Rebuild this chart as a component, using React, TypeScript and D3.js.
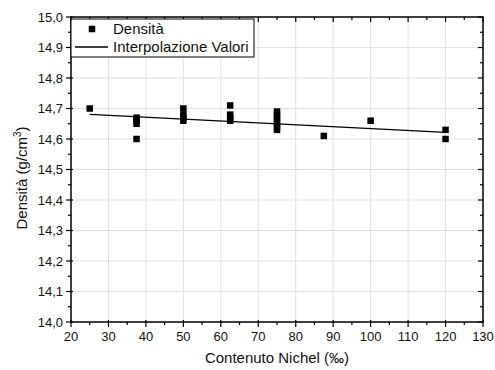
import React from "react";
import * as d3 from "d3";

const xValues = [25, 37.5, 37.5, 37.5, 37.5, 50, 50, 50, 50, 62.5, 62.5, 62.5, 62.5, 75, 75, 75, 75, 75, 75, 75, 87.5, 100, 120, 120];
const yValues = [14.70, 14.60, 14.65, 14.66, 14.67, 14.66, 14.67, 14.68, 14.70, 14.66, 14.67, 14.68, 14.71, 14.63, 14.64, 14.65, 14.66, 14.67, 14.68, 14.69, 14.61, 14.66, 14.60, 14.63];
const fitX = [25, 120];
const fitY = [14.681, 14.622];
const xTicks = [20, 30, 40, 50, 60, 70, 80, 90, 100, 110, 120, 130];
const yTicks = [14.0, 14.1, 14.2, 14.3, 14.4, 14.5, 14.6, 14.7, 14.8, 14.9, 15.0];
const legendLabels = ["Densità", "Interpolazione Valori"];

const W = 495, H = 370;
const L = 71, R = 483, T = 17, B = 322;
const font = "'Liberation Sans', Arial, sans-serif";

export default function App() {
  const x = d3.scaleLinear().domain([20, 130]).range([L, R]);
  const y = d3.scaleLinear().domain([14.0, 15.0]).range([B, T]);
  const xMinor = d3.range(25, 130, 10);
  const yMinor = d3.range(14.05, 15.0, 0.1);
  const line = d3.line<number>().x((d, i) => x(fitX[i])).y((d) => y(d));
  const fmt = (v: number) => v.toFixed(1).replace(".", ",");
  const ms = 6.5;
  return (
    <svg width={W} height={H} style={{ position: "absolute", left: 0, top: 0, background: "#fff" }} fontFamily={font}>
      {/* grid */}
      {xTicks.slice(1, -1).map((t) => (
        <line key={"gx" + t} x1={x(t)} x2={x(t)} y1={T} y2={B} stroke="#e0e0e0" strokeWidth={1} />
      ))}
      {yTicks.slice(1, -1).map((t) => (
        <line key={"gy" + t} x1={L} x2={R} y1={y(t)} y2={y(t)} stroke="#e0e0e0" strokeWidth={1} />
      ))}
      {/* fit line */}
      <path d={line(fitY) || ""} fill="none" stroke="#000" strokeWidth={1.3} />
      {/* points */}
      {xValues.map((xv, i) => (
        <rect key={"p" + i} x={x(xv) - ms / 2} y={y(yValues[i]) - ms / 2} width={ms} height={ms} fill="#000" />
      ))}
      {/* frame */}
      <rect x={L} y={T} width={R - L} height={B - T} fill="none" stroke="#000" strokeWidth={1.5} />
      {/* bottom ticks */}
      {xTicks.map((t) => (
        <g key={"xt" + t}>
          <line x1={x(t)} x2={x(t)} y1={B - 2} y2={B + 5} stroke="#000" strokeWidth={1.2} />
          <line x1={x(t)} x2={x(t)} y1={T} y2={T + 5} stroke="#000" strokeWidth={1.2} />
          <text x={x(t)} y={B + 19} fontSize={13} textAnchor="middle" fill="#111">{t}</text>
        </g>
      ))}
      {xMinor.map((t) => (
        <g key={"xm" + t}>
          <line x1={x(t)} x2={x(t)} y1={B} y2={B + 3} stroke="#000" strokeWidth={1.2} />
          <line x1={x(t)} x2={x(t)} y1={T} y2={T + 3} stroke="#000" strokeWidth={1.2} />
        </g>
      ))}
      {/* left ticks */}
      {yTicks.map((t) => (
        <g key={"yt" + t}>
          <line x1={L - 5} x2={L + 2} y1={y(t)} y2={y(t)} stroke="#000" strokeWidth={1.2} />
          <line x1={R - 5} x2={R} y1={y(t)} y2={y(t)} stroke="#000" strokeWidth={1.2} />
          <text x={L - 8} y={y(t) + 4.5} fontSize={13} textAnchor="end" fill="#111">{fmt(t)}</text>
        </g>
      ))}
      {yMinor.map((t) => (
        <g key={"ym" + t}>
          <line x1={L - 3} x2={L} y1={y(t)} y2={y(t)} stroke="#000" strokeWidth={1.2} />
          <line x1={R - 3} x2={R} y1={y(t)} y2={y(t)} stroke="#000" strokeWidth={1.2} />
        </g>
      ))}
      {/* axis titles */}
      <text x={(L + R) / 2} y={363} fontSize={15} textAnchor="middle" fill="#111">Contenuto Nichel (‰)</text>
      <text transform={`translate(27,178) rotate(-90)`} fontSize={15} textAnchor="middle" fill="#111">
        Densità (g/cm<tspan dy={-6} fontSize={10}>3</tspan><tspan dy={6}>)</tspan>
      </text>
      {/* legend */}
      <rect x={L} y={T + 2} width={183} height={38} fill="#fff" stroke="#000" strokeWidth={1} />
      <rect x={92 - ms / 2} y={29 - ms / 2} width={ms} height={ms} fill="#000" />
      <text x={113} y={34} fontSize={15} fill="#111">{legendLabels[0]}</text>
      <line x1={75} x2={108} y1={47} y2={47} stroke="#000" strokeWidth={1.3} />
      <text x={113} y={52} fontSize={15} fill="#111">{legendLabels[1]}</text>
    </svg>
  );
}
